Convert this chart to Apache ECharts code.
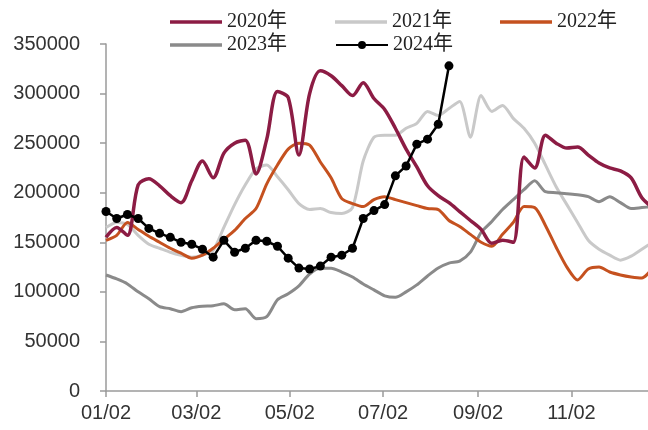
<!DOCTYPE html>
<html>
<head>
<meta charset="utf-8">
<script src="https://cdn.jsdelivr.net/npm/echarts@6/dist/echarts.min.js"></script>
<style>html,body{margin:0;padding:0;background:#fff;}#c{width:648px;height:430px;}</style>
</head>
<body>
<div id="c"></div>
<script>
// week index (weekly observations starting 01/02)
const weeks = Array.from({length: 52}, (_, i) => i);
// tick labels (MM/DD)
const tickLabels = ['01/02', '03/02', '05/02', '07/02', '09/02', '11/02'];
const seriesNames = ['2020年', '2021年', '2022年', '2023年', '2024年'];

const s2020 = [155000,165000,157000,208000,214000,207000,197000,190000,212000,232000,215000,240000,250000,253000,219000,254000,302000,296000,238000,300000,323000,318000,308000,298000,311000,295000,284000,265000,244000,226000,207000,197000,190000,181000,172000,163000,149000,152000,150000,236000,225000,258000,250000,245000,246000,238000,230000,225000,222000,215000,195000,185000];
const s2021 = [165000,170000,168000,157000,148000,144000,140000,137000,135000,137000,142000,165000,188000,208000,224000,228000,216000,203000,189000,183000,184000,180000,179000,185000,232000,256000,258000,258000,265000,270000,282000,278000,285000,292000,256000,298000,282000,288000,275000,265000,250000,228000,206000,188000,170000,152000,143000,137000,132000,136000,143000,150000];
const s2022 = [152000,157000,170000,163000,156000,150000,144000,139000,134000,137000,144000,153000,162000,174000,184000,209000,228000,244000,250000,248000,231000,215000,194000,189000,186000,193000,196000,193000,190000,187000,184000,183000,172000,166000,158000,150000,146000,158000,170000,186000,185000,167000,145000,125000,112000,123000,125000,120000,117000,115000,114000,124000];
const s2023 = [117000,113000,108000,100000,93000,85000,83000,80000,84000,85500,86000,88000,82000,83000,73000,75000,92000,98000,106000,118000,123700,123700,120000,115000,108000,102000,96000,94500,100000,107000,116000,124000,129000,131000,140000,160000,171000,183000,193000,203000,212000,201000,200000,199000,198000,196000,191000,196000,190000,184000,185000,186000];
const s2024 = [181000,174000,178000,174000,164000,159000,155000,150000,148000,143000,135000,152000,140000,144000,152000,151000,146000,134000,124000,123000,126000,135000,137000,144000,174000,182000,188000,217000,227000,249000,254000,269000,328000];

const base = Date.UTC(2023, 0, 2);
function dayOf(lbl) {
  const [m, d] = lbl.split('/').map(Number);
  return Math.round((Date.UTC(2023, m - 1, d) - base) / 86400000);
}
const tickDays = tickLabels.map(dayOf);
const pair = arr => arr.map((v, i) => [weeks[i] * 7, v]);

const colors = {'2020年': '#8C1C44', '2021年': '#C9C9C9', '2022年': '#C5511F', '2023年': '#8A8A8A', '2024年': '#000000'};
const legendText = {fontFamily: "'Liberation Serif', 'Noto Sans CJK SC', serif", fontSize: 20, color: '#222'};
const lineIcon = 'path://M0,0 H52 V3.5 H0 Z';
const legendItem = n => n === '2024年' ? {name: n} : {name: n, icon: lineIcon};

const chart = echarts.init(document.getElementById('c'), null, {renderer: 'canvas'});
chart.setOption({
  animation: false,
  backgroundColor: '#fff',
  grid: {left: 106, right: 0, top: 44, bottom: 39, containLabel: false},
  legend: [
    {data: seriesNames.slice(0, 3).map(legendItem), left: 165, top: 7, itemWidth: 52, itemHeight: 10, itemGap: 48, textStyle: legendText},
    {data: seriesNames.slice(3).map(legendItem), left: 165, top: 30, itemWidth: 52, itemHeight: 10, itemGap: 48, textStyle: legendText}
  ],
  xAxis: {
    type: 'value', min: 0, max: 354,
    axisLine: {show: true, lineStyle: {color: '#9a9a9a', width: 1.5}},
    axisTick: {show: true, customValues: tickDays, length: 6, lineStyle: {color: '#9a9a9a', width: 1.5}},
    axisLabel: {customValues: tickDays, margin: 12, fontSize: 20, color: '#333', fontFamily: "'Liberation Sans', Arial, sans-serif",
      formatter: v => tickLabels[tickDays.indexOf(Math.round(v))] || ''},
    splitLine: {show: false}
  },
  yAxis: {
    type: 'value', min: 0, max: 350000, interval: 50000,
    axisLine: {show: true, lineStyle: {color: '#9a9a9a', width: 1.5}},
    axisTick: {show: true, length: 6, lineStyle: {color: '#9a9a9a', width: 1.5}},
    axisLabel: {margin: 26, fontSize: 20, color: '#333', fontFamily: "'Liberation Sans', Arial, sans-serif", formatter: v => String(v)},
    splitLine: {show: false}
  },
  series: [
    {name: '2021年', type: 'line', data: pair(s2021), symbol: 'none', smooth: 0.25, lineStyle: {width: 3, color: colors['2021年']}, itemStyle: {color: colors['2021年']}},
    {name: '2023年', type: 'line', data: pair(s2023), symbol: 'none', smooth: 0.25, lineStyle: {width: 3, color: colors['2023年']}, itemStyle: {color: colors['2023年']}},
    {name: '2022年', type: 'line', data: pair(s2022), symbol: 'none', smooth: 0.25, lineStyle: {width: 3, color: colors['2022年']}, itemStyle: {color: colors['2022年']}},
    {name: '2020年', type: 'line', data: pair(s2020), symbol: 'none', smooth: 0.3, lineStyle: {width: 3.5, color: colors['2020年']}, itemStyle: {color: colors['2020年']}},
    {name: '2024年', type: 'line', data: pair(s2024), symbol: 'circle', symbolSize: 9, smooth: false, lineStyle: {width: 2.5, color: '#000'}, itemStyle: {color: '#000'}}
  ]
});
</script>
</body>
</html>
